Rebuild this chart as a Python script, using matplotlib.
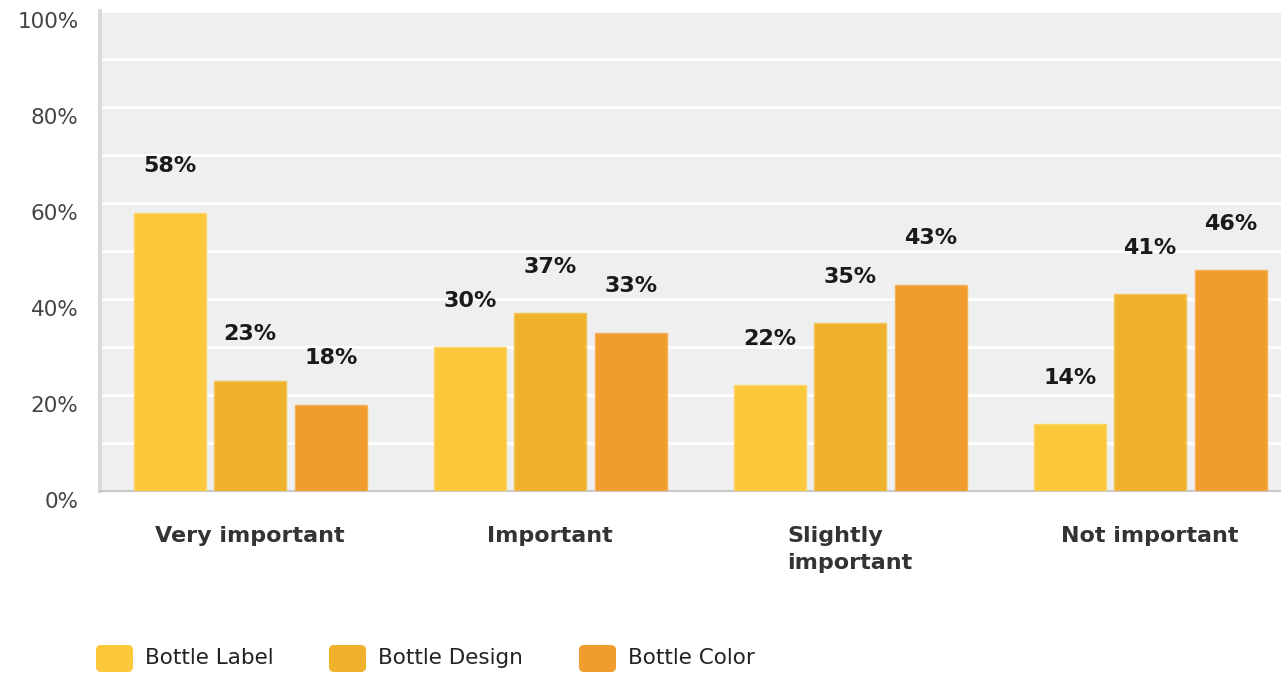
import matplotlib
matplotlib.use("Agg")
import matplotlib.pyplot as plt
import numpy as np
from matplotlib.patches import FancyBboxPatch
from matplotlib.transforms import ScaledTranslation

categories = ["Very important", "Important", "Slightly\nimportant", "Not important"]
series_names = ["Bottle Label", "Bottle Design", "Bottle Color"]
bottle_label = [58, 30, 22, 14]
bottle_design = [23, 37, 35, 41]
bottle_color = [18, 33, 43, 46]
y_ticks = [0, 20, 40, 60, 80, 100]
y_tick_labels = ["0%", "20%", "40%", "60%", "80%", "100%"]

colors = ["#FCC83B", "#F0B22D", "#F09D2E"]
edge_colors = ["#FDD468", "#F4C25A", "#F4B05A"]

plt.rcParams["font.family"] = ["DejaVu Sans"]

W, H = 1281, 673
fig = plt.figure(figsize=(W / 100, H / 100), dpi=100)
ax = fig.add_axes([100 / W, 1 - 491 / H, 1 - 100 / W, 480 / H])
ax.set_facecolor("#EFEFEF")

x = np.arange(len(categories))
offsets = [-0.267, 0.0, 0.27]
width = 0.24
all_series = [bottle_label, bottle_design, bottle_color]

for vals, off, c, ec in zip(all_series, offsets, colors, edge_colors):
    bars = ax.bar(x + off, vals, width=width, color=c, edgecolor=ec,
                  linewidth=1.0, zorder=3)
    for b, v in zip(bars, vals):
        ax.annotate(f"{v}%", (b.get_x() + b.get_width() / 2, v),
                    xytext=(0, 29), textcoords="offset points",
                    ha="center", va="baseline", fontsize=16,
                    fontweight="bold", color="#1A1A1A")

ax.set_xlim(-0.5, (1281 - 250) / 300)
ax.set_ylim(0, 100)

# minor grid every 10%
ax.set_yticks(np.arange(10, 100, 10), minor=True)
ax.yaxis.grid(True, which="both", color="white", linewidth=2, zorder=1)
ax.set_axisbelow(True)

ax.set_yticks(y_ticks)
ax.set_yticklabels(y_tick_labels, fontsize=15.5, color="#444444")
ax.tick_params(axis="y", which="both", length=0, pad=15.5)
offset = ScaledTranslation(0, -9 / 100, fig.dpi_scale_trans)
for lbl in ax.get_yticklabels():
    lbl.set_transform(lbl.get_transform() + offset)

ax.set_xticks([])
for cat, xi in zip(categories, x):
    ax.annotate(cat, (xi, 0), xytext=(0, -25), textcoords="offset points",
                ha="center", va="top", fontsize=16, fontweight="bold",
                color="#333333", multialignment="left", linespacing=1.45,
                annotation_clip=False)

for s in ["top", "right"]:
    ax.spines[s].set_visible(False)
ax.spines["left"].set_color("#DADADA")
ax.spines["left"].set_linewidth(3)
ax.spines["bottom"].set_color("#C8C8C8")
ax.spines["bottom"].set_linewidth(1.5)

# legend
legend_x = [96, 329, 579]
for lx, name, c in zip(legend_x, series_names, colors):
    p = FancyBboxPatch((lx / W, 1 - 672 / H), 37 / W, 27 / H,
                       boxstyle="round,pad=0,rounding_size=0.004",
                       transform=fig.transFigure, facecolor=c,
                       edgecolor="none", mutation_aspect=W / H)
    fig.patches.append(p)
    fig.text((lx + 49) / W, 1 - 658 / H, name, fontsize=15.5,
             color="#222222", va="center", ha="left")

fig.savefig("out.png", dpi=100, facecolor="white")
